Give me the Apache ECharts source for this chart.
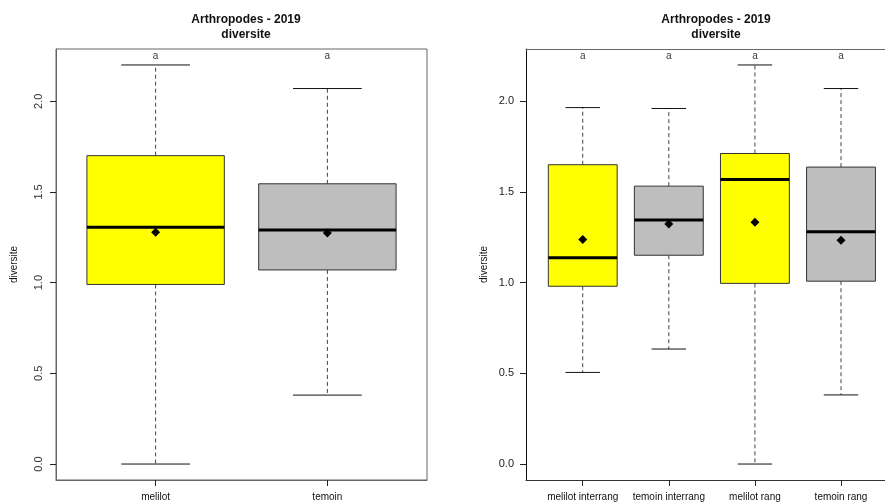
<!DOCTYPE html>
<html>
<head>
<meta charset="utf-8">
<script src="https://cdn.jsdelivr.net/npm/echarts@6/dist/echarts.min.js"></script>
<style>
  html, body { margin: 0; padding: 0; background: #fff; }
  #chart { width: 885px; height: 502px; }
</style>
</head>
<body>
<div id="chart"></div>
<script>
// Panel 1: melilot vs temoin
const groupsA = ['melilot', 'temoin'];
const lowA  = [0.00, 0.38];
const q1A   = [0.99, 1.07];
const medA  = [1.305, 1.29];
const q3A   = [1.70, 1.545];
const highA = [2.20, 2.07];
const meanA = [1.278, 1.273];
const lettersA = ['a', 'a'];
const colorsA = ['#FFFF00', '#BEBEBE'];

// Panel 2: split by position (interrang / rang)
const groupsB = ['melilot interrang', 'temoin interrang', 'melilot rang', 'temoin rang'];
const lowB  = [0.505, 0.634, 0.00, 0.381];
const q1B   = [0.98, 1.151, 0.996, 1.008];
const medB  = [1.137, 1.345, 1.568, 1.28];
const q3B   = [1.65, 1.532, 1.712, 1.637];
const highB = [1.965, 1.96, 2.20, 2.07];
const meanB = [1.238, 1.323, 1.333, 1.234];
const lettersB = ['a', 'a', 'a', 'a'];
const colorsB = ['#FFFF00', '#BEBEBE', '#FFFF00', '#BEBEBE'];

const yTicks = [0, 0.5, 1, 1.5, 2];
const letterY = 2.25;
const FONT = '"Liberation Sans", Arial, sans-serif';

function buildData(low, q1, med, q3, high, mean) {
  return low.map((_, i) => [i + 1, low[i], q1[i], med[i], q3[i], high[i], mean[i]]);
}

function boxRenderer(colors) {
  return function (params, api) {
    const x = api.value(0);
    const lo = api.value(1), a = api.value(2), m = api.value(3), b = api.value(4), hi = api.value(5), mu = api.value(6);
    const boxHalf = 0.4, capHalf = 0.2;
    const c = (xx, yy) => api.coord([xx, yy]);
    const dash = { stroke: '#444', lineWidth: 1, lineDash: [4, 3] };
    const solid = { stroke: '#111', lineWidth: 1 };
    const pTL = c(x - boxHalf, b), pBR = c(x + boxHalf, a);
    const pm = c(x, mu);
    const r = 4.5;
    return {
      type: 'group',
      children: [
        { type: 'line', shape: { x1: c(x, b)[0], y1: c(x, b)[1], x2: c(x, hi)[0], y2: c(x, hi)[1] }, style: dash },
        { type: 'line', shape: { x1: c(x, a)[0], y1: c(x, a)[1], x2: c(x, lo)[0], y2: c(x, lo)[1] }, style: dash },
        { type: 'line', shape: { x1: c(x - capHalf, hi)[0], y1: c(x, hi)[1], x2: c(x + capHalf, hi)[0], y2: c(x, hi)[1] }, style: solid },
        { type: 'line', shape: { x1: c(x - capHalf, lo)[0], y1: c(x, lo)[1], x2: c(x + capHalf, lo)[0], y2: c(x, lo)[1] }, style: solid },
        { type: 'rect', shape: { x: pTL[0], y: pTL[1], width: pBR[0] - pTL[0], height: pBR[1] - pTL[1] },
          style: { fill: colors[params.dataIndex], stroke: '#333', lineWidth: 1 } },
        { type: 'line', shape: { x1: pTL[0], y1: c(x, m)[1], x2: pBR[0], y2: c(x, m)[1] }, style: { stroke: '#000', lineWidth: 3 } },
        { type: 'polygon', shape: { points: [[pm[0], pm[1] - r], [pm[0] + r, pm[1]], [pm[0], pm[1] + r], [pm[0] - r, pm[1]]] },
          style: { fill: '#000' } }
      ]
    };
  };
}

function letterSeries(letters, gridIdx) {
  return {
    type: 'scatter', xAxisIndex: gridIdx, yAxisIndex: gridIdx,
    symbolSize: 0, silent: true,
    data: letters.map((t, i) => ({ value: [i + 1, letterY], name: t })),
    label: { show: true, position: 'inside', formatter: p => p.name, color: '#000', fontSize: 10, fontFamily: FONT }
  };
}

function xAxisFor(groups, min, max, gridIdx, lineColor) {
  const vals = groups.map((_, i) => i + 1);
  return {
    type: 'value', gridIndex: gridIdx, min: min, max: max,
    axisLine: { show: true, onZero: false, lineStyle: { color: lineColor, width: 1 } },
    splitLine: { show: false },
    axisTick: { show: true, customValues: vals, length: 6, lineStyle: { color: '#222' } },
    axisLabel: { show: true, customValues: vals, formatter: v => groups[Math.round(v) - 1] || '',
      margin: 12, fontSize: 10, color: '#111', fontFamily: FONT }
  };
}

// top frame line of the second panel (its right edge lies outside the canvas)
function topFrameAxis(min, max, gridIdx) {
  return {
    type: 'value', gridIndex: gridIdx, position: 'top', min: min, max: max,
    axisLine: { show: true, onZero: false, lineStyle: { color: '#666', width: 1 } },
    axisTick: { show: false }, axisLabel: { show: false }, splitLine: { show: false }
  };
}

function yAxisFor(gridIdx, rotate, lineColor, labelColor, nameGap) {
  return {
    type: 'value', gridIndex: gridIdx, min: -0.088, max: 2.288,
    name: 'diversite', nameLocation: 'middle', nameGap: nameGap, nameRotate: 90,
    nameTextStyle: { fontSize: 10, color: '#111', fontFamily: FONT },
    axisLine: { show: true, onZero: false, lineStyle: { color: lineColor, width: 1 } },
    splitLine: { show: false },
    axisTick: { show: true, customValues: yTicks, length: 6, lineStyle: { color: '#222' } },
    axisLabel: { show: true, customValues: yTicks, formatter: v => v.toFixed(1), rotate: rotate,
      margin: rotate ? 12 : 12, fontSize: 11, color: labelColor, fontFamily: FONT }
  };
}

const xMinB = 0.341, xMaxB = 4.511;

const chart = echarts.init(document.getElementById('chart'), null, { renderer: 'canvas' });
chart.setOption({
  animation: false,
  backgroundColor: '#fff',
  title: [
    { text: 'Arthropodes - 2019\ndiversite', left: 241, top: 7, textAlign: 'center',
      textStyle: { fontSize: 12, fontWeight: 'bold', color: '#111', lineHeight: 15, fontFamily: FONT, align: 'center' } },
    { text: 'Arthropodes - 2019\ndiversite', left: 711, top: 7, textAlign: 'center',
      textStyle: { fontSize: 12, fontWeight: 'bold', color: '#111', lineHeight: 15, fontFamily: FONT, align: 'center' } }
  ],
  grid: [
    { left: 56, top: 49, width: 371, height: 431, show: true, borderColor: '#666', borderWidth: 1, backgroundColor: 'transparent' },
    { left: 526, top: 49, width: 359, height: 431, show: false }
  ],
  xAxis: [
    xAxisFor(groupsA, 0.42, 2.58, 0, '#666'),
    xAxisFor(groupsB, xMinB, xMaxB, 1, '#333'),
    topFrameAxis(xMinB, xMaxB, 1)
  ],
  yAxis: [
    yAxisFor(0, 90, '#666', '#333', 37),
    yAxisFor(1, 0, '#111', '#222', 37)
  ],
  series: [
    { type: 'custom', xAxisIndex: 0, yAxisIndex: 0, renderItem: boxRenderer(colorsA),
      data: buildData(lowA, q1A, medA, q3A, highA, meanA), encode: { x: 0, y: [1, 5] }, clip: false },
    { type: 'custom', xAxisIndex: 1, yAxisIndex: 1, renderItem: boxRenderer(colorsB),
      data: buildData(lowB, q1B, medB, q3B, highB, meanB), encode: { x: 0, y: [1, 5] }, clip: false },
    letterSeries(lettersA, 0),
    letterSeries(lettersB, 1)
  ]
});
</script>
</body>
</html>
